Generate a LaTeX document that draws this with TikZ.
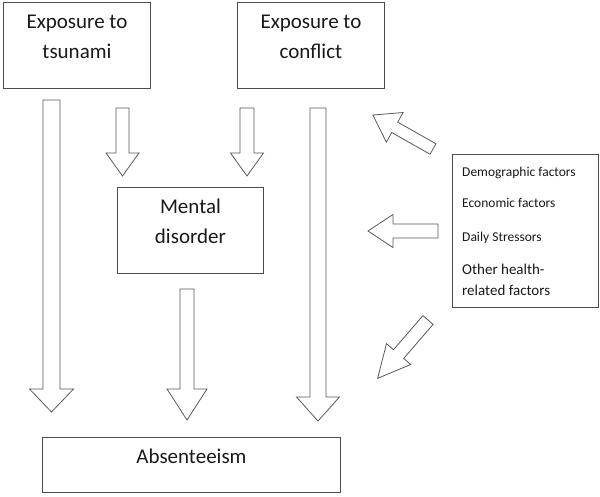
\documentclass[tikz,border=0pt]{standalone}
\usepackage{fontspec}
\setmainfont{Carlito}
\usetikzlibrary{positioning}
\tikzset{
  box/.style={draw=black!70, line width=0.9pt, rectangle, inner sep=0pt},
  arrowline/.style={draw=black!65, line width=0.8pt, line join=miter},
  bigtext/.style={font=\fontsize{21}{30}\selectfont, align=center, inner sep=0pt, text=black!90},
  factor/.style={font=\fontsize{13.5}{16}\selectfont, inner sep=0pt, anchor=base west, text=black!90},
  pics/fatarrow/.style n args={4}{code={
    \draw[arrowline] (0,#2) -- (#1-#4,#2) -- (#1-#4,#3) -- (#1,0)
      -- (#1-#4,-#3) -- (#1-#4,-#2) -- (0,-#2) -- cycle;
  }},
}
\begin{document}
\begin{tikzpicture}[x=1pt,y=-1pt]
  \useasboundingbox (0,0) rectangle (600,496);
  % boxes
  \node[box, minimum width=147, minimum height=86, anchor=north west] (tsunami) at (3,2) {};
  \node[box, minimum width=147, minimum height=86, anchor=north west] (conflict) at (237,2) {};
  \node[box, minimum width=146, minimum height=86, anchor=north west] (mental) at (117,187) {};
  \node[box, minimum width=298, minimum height=55, anchor=north west] (absent) at (42,437) {};
  \node[box, minimum width=146, minimum height=153, anchor=north west] (factors) at (452,154) {};
  % labels (base = last line)
  \node[bigtext, anchor=base] (tsunamitxt) at ([yshift=-56pt]tsunami.north) {Exposure to\\tsunami};
  \node[bigtext, anchor=base] (conflicttxt) at ([yshift=-56pt]conflict.north) {Exposure to\\conflict};
  \node[bigtext, anchor=base] (mentaltxt) at ([yshift=-56pt]mental.north) {Mental\\disorder};
  \node[bigtext, anchor=base] (absenttxt) at ([yshift=-26pt]absent.north) {Absenteeism};
  \node[factor] (demog) at ([xshift=10pt,yshift=-22pt]factors.north west) {Demographic factors};
  \node[factor] (econ) at ([xshift=10pt,yshift=-53pt]factors.north west) {Economic factors};
  \node[factor] (daily) at ([xshift=10pt,yshift=-87pt]factors.north west) {Daily Stressors};
  \node[factor, font=\fontsize{15}{21}\selectfont, align=left] (health) at ([xshift=10pt,yshift=-141pt]factors.north west) {Other health-\\related factors};
  % block arrows
  \coordinate (a1) at (51.5,100);
  \coordinate (a2) at (122.5,108);
  \coordinate (a3) at (247,108);
  \coordinate (a4) at (187,289);
  \coordinate (a5) at (318,108);
  \coordinate (a6) at (433,149);
  \coordinate (a7) at (438,231);
  \coordinate (a8) at (428,320);
  \pic[rotate=-90] at (a1) {fatarrow={312}{8.5}{22}{23}};
  \pic[rotate=-90] at (a2) {fatarrow={68}{6.5}{16.5}{23}};
  \pic[rotate=-90] at (a3) {fatarrow={68}{7}{16.5}{23}};
  \pic[rotate=-90] at (a4) {fatarrow={131}{7}{20}{31}};
  \pic[rotate=-90] at (a5) {fatarrow={313}{8}{21.5}{24}};
  \pic[rotate=150.5] at (a6) {fatarrow={69}{6}{17}{25}};
  \pic[rotate=180] at (a7) {fatarrow={70}{7}{16.5}{25}};
  \pic[rotate=229.2] at (a8) {fatarrow={77}{6.7}{16}{32}};
\end{tikzpicture}
\end{document}
